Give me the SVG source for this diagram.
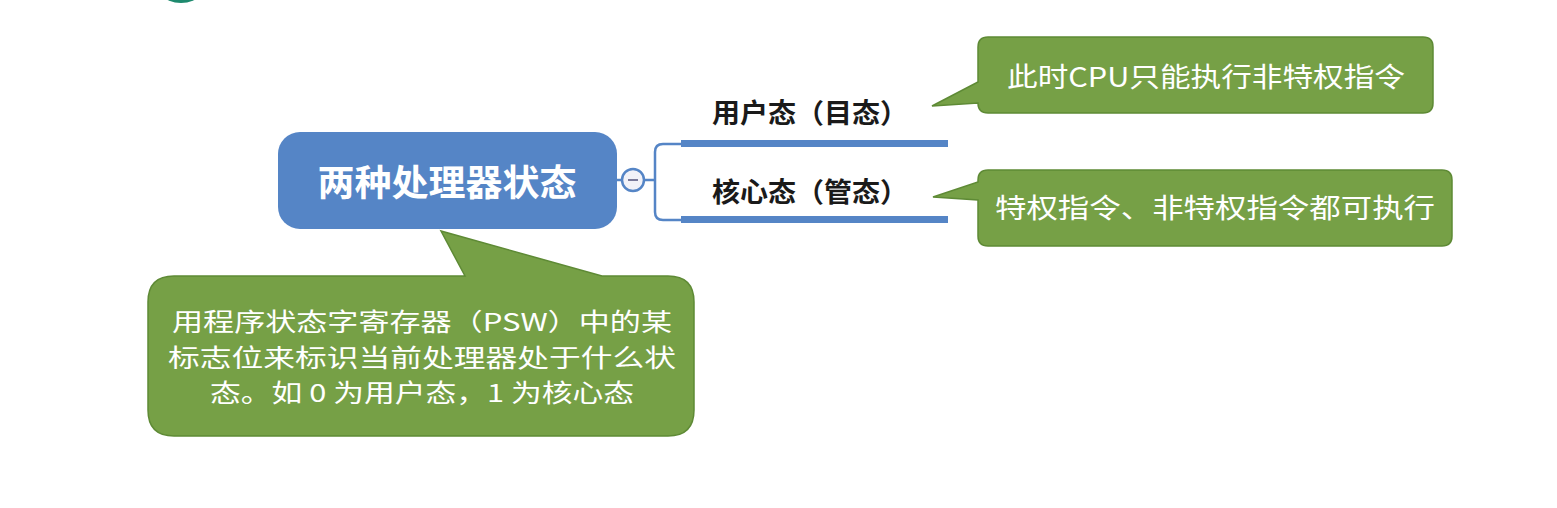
<svg xmlns="http://www.w3.org/2000/svg" width="1557" height="508" viewBox="0 0 1557 508">
<style>
.bg{fill:#ffffff}
.callout{fill:#76A046;stroke:#5E8A35;stroke-width:1.5}
.ctext{fill:#ffffff;font-family:"Noto Sans CJK SC","Liberation Sans",sans-serif;font-size:27px}
.ptext{fill:#ffffff;font-family:"Noto Sans CJK SC","Liberation Sans",sans-serif;font-size:24.5px}
.branch{fill:#1a1a1a;font-family:"Noto Sans CJK SC","Liberation Sans",sans-serif;font-size:27px;font-weight:bold}
.thin{fill:none;stroke:#5585C6;stroke-width:2.5}
.thick{stroke:#5585C6;stroke-width:7}
</style>
<rect class="bg" x="0" y="0" width="1557" height="508"/>
<ellipse cx="181" cy="-27" rx="31" ry="30" fill="#1E8A6E"/>
<g id="connectors">
<path class="thin" d="M617,180 H622"/>
<path class="thin" d="M644,180 H655 M682,144 H663 Q655,144 655,152 V212 Q655,220 663,220 H682"/>
<line class="thick" x1="681" y1="143.5" x2="948" y2="143.5"/>
<line class="thick" x1="681" y1="219.5" x2="948" y2="219.5"/>
</g>
<g id="root">
<rect x="278" y="132" width="339" height="97" rx="22" fill="#5585C6"/>
<text x="447" y="196" text-anchor="middle" fill="#ffffff" font-family="'Noto Sans CJK SC','Liberation Sans',sans-serif" font-size="36" font-weight="bold" textLength="259" lengthAdjust="spacingAndGlyphs">两种处理器状态</text>
</g>
<g id="collapse">
<circle cx="633" cy="180" r="11" fill="#F2F2F8" stroke="#5585C6" stroke-width="2.5"/>
<line x1="628" y1="180" x2="638" y2="180" stroke="#7A7A9A" stroke-width="2"/>
</g>
<g id="user-mode">
<text class="branch" x="810" y="123" text-anchor="middle" textLength="196" lengthAdjust="spacingAndGlyphs">用户态（目态）</text>
</g>
<g id="kernel-mode">
<text class="branch" x="810" y="202" text-anchor="middle" textLength="196" lengthAdjust="spacingAndGlyphs">核心态（管态）</text>
</g>
<g id="note-user">
<path class="callout" d="M988,37 H1423 Q1433,37 1433,47 V103 Q1433,113 1423,113 H988 Q978,113 978,103 V103 L932,106 L978,82 V47 Q978,37 988,37 Z"/>
<text class="ctext" x="1206" y="87" text-anchor="middle" textLength="398" lengthAdjust="spacingAndGlyphs">此时CPU只能执行非特权指令</text>
</g>
<g id="note-kernel">
<path class="callout" d="M988,170 H1442 Q1452,170 1452,180 V236 Q1452,246 1442,246 H988 Q978,246 978,236 V200 L933,197 L978,182 V180 Q978,170 988,170 Z"/>
<text class="ctext" x="1215" y="218" text-anchor="middle" textLength="440" lengthAdjust="spacingAndGlyphs">特权指令、非特权指令都可执行</text>
</g>
<g id="note-psw">
<path class="callout" d="M174,276 H465 L441,231 L602,276 H668 Q694,276 694,302 V410 Q694,436 668,436 H174 Q148,436 148,410 V302 Q148,276 174,276 Z"/>
<text class="ptext" x="422" y="331" text-anchor="middle" textLength="500" lengthAdjust="spacingAndGlyphs">用程序状态字寄存器（PSW）中的某</text>
<text class="ptext" x="422" y="366.5" text-anchor="middle" textLength="508" lengthAdjust="spacingAndGlyphs">标志位来标识当前处理器处于什么状</text>
<text class="ptext" x="422" y="402" text-anchor="middle" textLength="424" lengthAdjust="spacingAndGlyphs">态。如 0 为用户态，1 为核心态</text>
</g>
</svg>
